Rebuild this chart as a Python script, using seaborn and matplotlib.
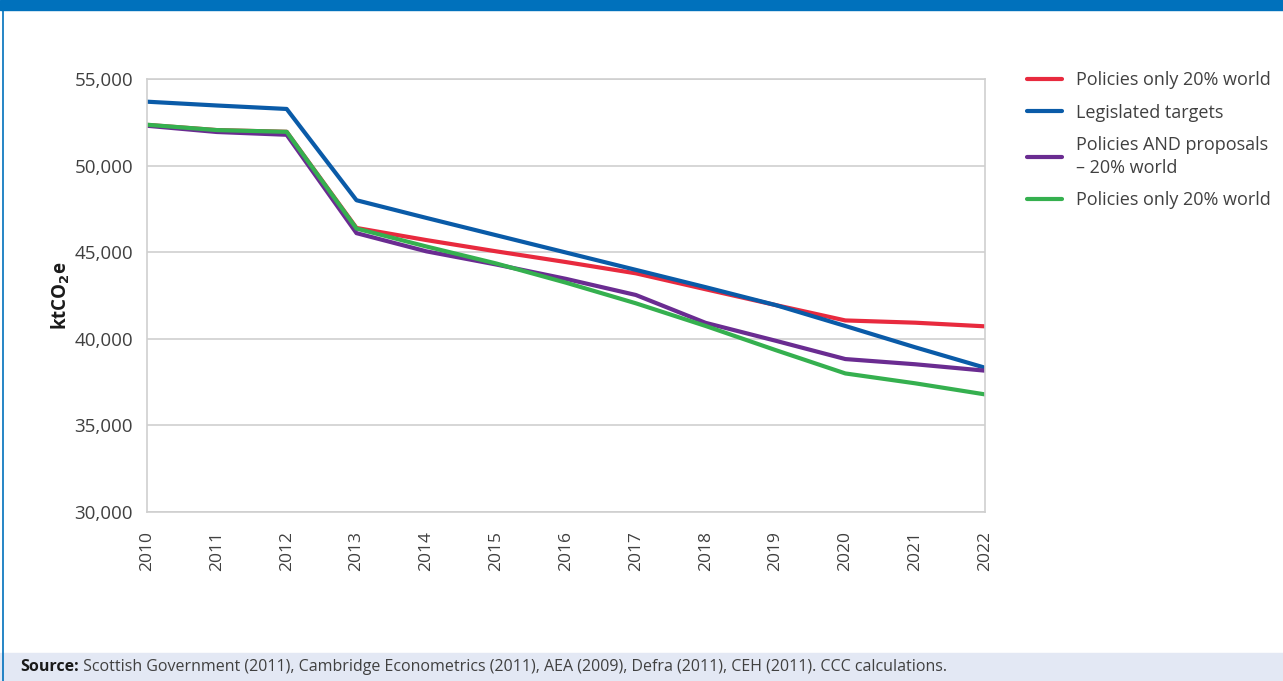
import seaborn as sns
import matplotlib.pyplot as plt
import pandas as pd
from matplotlib.patches import Rectangle
from matplotlib.ticker import FuncFormatter

years = list(range(2010, 2023))
policies_red = [52350, 52050, 51950, 46400, 45700, 45050, 44430, 43780, 42860, 41950, 41060, 40930, 40720]
legislated = [53690, 53470, 53270, 48000, 46980, 45980, 44980, 43980, 42980, 41950, 40740, 39510, 38330]
policies_proposals = [52300, 51940, 51780, 46100, 45050, 44290, 43460, 42530, 40920, 39890, 38830, 38530, 38160]
policies_green = [52360, 52050, 51950, 46365, 45330, 44350, 43240, 42050, 40740, 39350, 38000, 37430, 36790]

series_names = ['Policies only 20% world', 'Legislated targets',
                'Policies AND proposals\n– 20% world', 'Policies only 20% world']
series_values = [policies_red, legislated, policies_proposals, policies_green]
colors = ['#E82A3E', '#0A5BA8', '#6A2C91', '#35B04F']

source_bold = 'Source:'
source_text = (' Scottish Government (2011), Cambridge Econometrics (2011), AEA (2009), '
               'Defra (2011), CEH (2011). CCC calculations.')

sns.set_theme(style='white')
plt.rcParams['font.family'] = ['Open Sans', 'DejaVu Sans']
text_grey = '#404040'

fig = plt.figure(figsize=(12.83, 6.81), dpi=100)

# frame decorations
fig.patches.append(Rectangle((0, 1 - 10 / 681), 1, 10 / 681, transform=fig.transFigure,
                             color='#0071BC', zorder=0))
fig.patches.append(Rectangle((0, 0), 1, 28 / 681, transform=fig.transFigure,
                             color='#E3E8F4', zorder=0))
fig.lines.append(plt.Line2D([3 / 1283, 3 / 1283], [0, 1 - 10 / 681], transform=fig.transFigure,
                            color='#0071BC', lw=1.2))

ax = fig.add_axes([147 / 1283, 1 - 512 / 681, (985 - 147) / 1283, (512 - 79) / 681])

for name, vals, c in zip(series_names, series_values, colors):
    df = pd.DataFrame({'year': years, 'value': vals})
    sns.lineplot(data=df, x='year', y='value', color=c, lw=3, label=name, ax=ax)

ax.set_xlim(years[0], years[-1])
ax.set_ylim(30000, 55000)
ax.set_yticks(range(30000, 55001, 5000))
ax.yaxis.set_major_formatter(FuncFormatter(lambda v, p: f'{int(v):,}'))
ax.set_xticks(years)
ax.set_xticklabels([str(y) for y in years], rotation=90, va='top', ha='center')
ax.tick_params(axis='x', length=0, pad=14, labelsize=12.5, labelcolor=text_grey)
ax.tick_params(axis='y', length=0, pad=10, labelsize=13.5, labelcolor=text_grey)
ax.grid(axis='y', color='#CFCFCF', lw=1.2)
for s in ax.spines.values():
    s.set_color('#CFCFCF')
    s.set_linewidth(1.2)
ax.set_xlabel('')
ax.set_ylabel(r'ktCO$_{\mathbf{2}}$e', fontsize=13.5, fontweight='bold', color='#1a1a1a', labelpad=2)

leg = ax.legend(loc='upper left', bbox_to_anchor=(1011 / 1283, 1 - 55 / 681),
                bbox_transform=fig.transFigure, frameon=False, fontsize=13,
                handlelength=1.9, handletextpad=0.8, labelspacing=0.8)
for t in leg.get_texts():
    t.set_color(text_grey)
    t.set_linespacing(1.35)

# source note: bold lead-in followed by regular text
src = fig.text(20 / 1283, 14 / 681, source_bold, fontsize=11.5, fontweight='bold', color='#1a1a1a',
               va='center', ha='left')
fig.canvas.draw()
bb = src.get_window_extent().transformed(fig.transFigure.inverted())
fig.text(bb.x1, 14 / 681, source_text, fontsize=11.5, color=text_grey, va='center', ha='left')

fig.savefig('out.png', dpi=100)
